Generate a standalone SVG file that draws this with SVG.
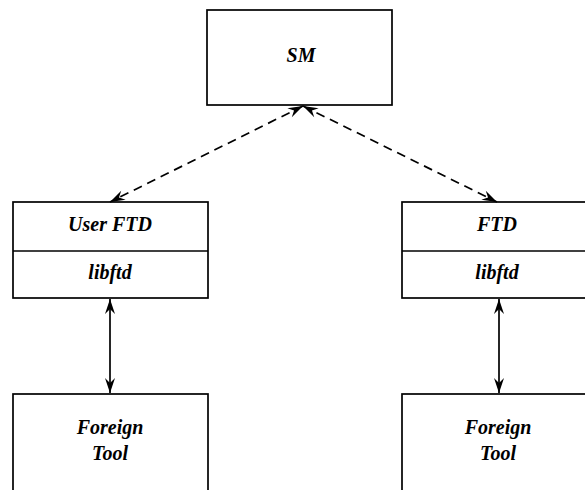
<svg xmlns="http://www.w3.org/2000/svg" width="585" height="490" viewBox="0 0 585 490">
<style>
.box{fill:#fff;stroke:#000;stroke-width:1.7}
.t{font-family:"Liberation Serif","Times New Roman",serif;font-style:italic;font-weight:bold;font-size:20px;text-anchor:middle;fill:#000}
.dash{fill:none;stroke:#000;stroke-width:1.7;stroke-dasharray:9,6}
.solid{fill:none;stroke:#000;stroke-width:1.7}
</style>
<defs>
<marker id="ah" viewBox="-16 -6 17 12" refX="0" refY="0" markerWidth="17" markerHeight="12" markerUnits="userSpaceOnUse" orient="auto-start-reverse">
<path d="M0,0 L-15,-5 L-10,0 L-15,5 Z" fill="#000"/>
</marker>
</defs>
<rect width="585" height="490" fill="#fff"/>
<g id="sm">
<rect class="box" x="207" y="10" width="185" height="95"/>
<text class="t" x="301" y="62">SM</text>
</g>
<g id="userftd">
<rect class="box" x="13" y="202" width="195" height="96"/>
<line class="solid" x1="13" y1="251" x2="208" y2="251"/>
<text class="t" x="110" y="231">User FTD</text>
<text class="t" x="110" y="279">libftd</text>
</g>
<g id="ftd">
<rect class="box" x="402" y="202" width="190" height="96"/>
<line class="solid" x1="402" y1="251" x2="592" y2="251"/>
<text class="t" x="497" y="231">FTD</text>
<text class="t" x="497" y="279">libftd</text>
</g>
<g id="tool1">
<rect class="box" x="13" y="394" width="195" height="110"/>
<text class="t" x="110" y="434">Foreign</text>
<text class="t" x="110" y="460">Tool</text>
</g>
<g id="tool2">
<rect class="box" x="402" y="394" width="190" height="110"/>
<text class="t" x="498" y="434">Foreign</text>
<text class="t" x="498" y="460">Tool</text>
</g>
<g id="connectors">
<line class="dash" x1="303" y1="106" x2="110" y2="202" marker-start="url(#ah)" marker-end="url(#ah)"/>
<line class="dash" x1="303" y1="106" x2="497" y2="202" marker-start="url(#ah)" marker-end="url(#ah)"/>
<line class="solid" x1="110" y1="299" x2="110" y2="393" marker-start="url(#ah)" marker-end="url(#ah)"/>
<line class="solid" x1="499" y1="299" x2="499" y2="393" marker-start="url(#ah)" marker-end="url(#ah)"/>
</g>
</svg>
